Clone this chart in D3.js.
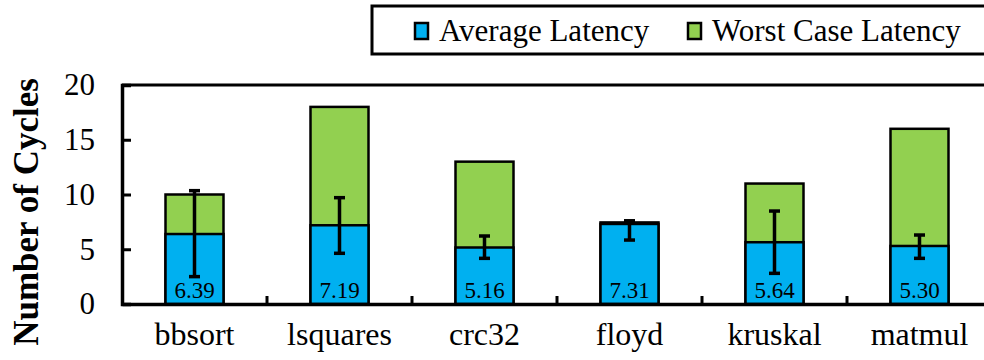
<!DOCTYPE html>
<html><head><meta charset="utf-8">
<script src="https://cdn.jsdelivr.net/npm/d3@7"></script>
<style>body{margin:0;background:#fff}svg{display:block}</style>
</head><body>
<svg id="c" width="984" height="360"></svg>
<script>
const categories = ["bbsort","lsquares","crc32","floyd","kruskal","matmul"];
const avgLatency = [6.39, 7.19, 5.16, 7.31, 5.64, 5.30];
const worstLatency = [10.0, 18.0, 13.0, 7.45, 11.0, 16.0];
const errLow = [2.5, 4.63, 4.17, 5.84, 2.8, 4.17];
const errHigh = [10.35, 9.71, 6.21, 7.6, 8.49, 6.3];
const yTicks = [0, 5, 10, 15, 20];
const seriesNames = ["Average Latency", "Worst Case Latency"];
const colors = ["#00B0F0", "#92D050"];

const svg = d3.select("#c");
const font = "'Liberation Serif','Times New Roman',serif";
const m = {left:122, top:85, bottom:304, right:992};
const x = d3.scaleBand().domain(categories).range([m.left, m.right]).padding(0);
const y = d3.scaleLinear().domain([0, 20]).range([m.bottom, m.top]);
const bw = x.bandwidth() * 0.4;

// top frame line
svg.append("line").attr("x1", m.left).attr("x2", m.right).attr("y1", m.top).attr("y2", m.top)
  .attr("stroke", "#000").attr("stroke-width", 3);

// worst bars
svg.selectAll(".w").data(categories).join("rect")
  .attr("x", d => x(d) + (x.bandwidth() - bw) / 2)
  .attr("y", (d, i) => y(worstLatency[i]))
  .attr("width", bw)
  .attr("height", (d, i) => y(0) - y(worstLatency[i]))
  .attr("fill", colors[1]).attr("stroke", "#000").attr("stroke-width", 2.5);
// avg bars
svg.selectAll(".a").data(categories).join("rect")
  .attr("x", d => x(d) + (x.bandwidth() - bw) / 2)
  .attr("y", (d, i) => y(avgLatency[i]))
  .attr("width", bw)
  .attr("height", (d, i) => y(0) - y(avgLatency[i]))
  .attr("fill", colors[0]).attr("stroke", "#000").attr("stroke-width", 2.5);

// error bars
const eb = svg.append("g");
categories.forEach((c, i) => {
  const cx = x(c) + x.bandwidth() / 2;
  eb.append("line").attr("x1", cx).attr("x2", cx).attr("y1", y(errLow[i])).attr("y2", y(errHigh[i]))
    .attr("stroke", "#000").attr("stroke-width", 3.5);
  [errLow[i], errHigh[i]].forEach(v => {
    eb.append("line").attr("x1", cx - 5.5).attr("x2", cx + 5.5).attr("y1", y(v)).attr("y2", y(v))
      .attr("stroke", "#000").attr("stroke-width", 3.5);
  });
});

// value labels
svg.selectAll(".v").data(categories).join("text")
  .attr("x", d => x(d) + x.bandwidth() / 2)
  .attr("y", 298)
  .attr("text-anchor", "middle")
  .attr("font-family", font).attr("font-size", 23)
  .text((d, i) => avgLatency[i].toFixed(2));

// y axis
const ya = svg.append("g").attr("transform", `translate(${m.left},0)`)
  .call(d3.axisLeft(y).tickValues(yTicks).tickSize(-9).tickPadding(27));
ya.select(".domain").attr("stroke-width", 3.5);
ya.selectAll(".tick line").attr("stroke-width", 3);
ya.selectAll("text").attr("font-family", font).attr("font-size", 31).attr("fill", "#000");

// x axis
const xa = svg.append("g").attr("transform", `translate(0,${m.bottom})`)
  .call(d3.axisBottom(x).tickSize(0).tickPadding(14));
xa.select(".domain").attr("stroke-width", 3.5);
xa.selectAll("text").attr("font-family", font).attr("font-size", 32).attr("fill", "#000").attr("dy", "0.85em");
// category separator ticks
const seps = categories.slice(1).map(c => x(c));
svg.selectAll(".sep").data(seps).join("line")
  .attr("x1", d => d).attr("x2", d => d).attr("y1", m.bottom).attr("y2", m.bottom - 8)
  .attr("stroke", "#000").attr("stroke-width", 3);

// y title
svg.append("text").attr("transform", "translate(38,212) rotate(-90)")
  .attr("text-anchor", "middle").attr("font-family", font).attr("font-weight", "bold")
  .attr("font-size", 35).text("Number of Cycles");

// legend
svg.append("rect").attr("x", 372).attr("y", 6).attr("width", 640).attr("height", 48)
  .attr("fill", "#fff").attr("stroke", "#000").attr("stroke-width", 3);
const lx = [415, 688];
seriesNames.forEach((n, i) => {
  svg.append("rect").attr("x", lx[i]).attr("y", 23).attr("width", 13).attr("height", 16)
    .attr("fill", colors[i]).attr("stroke", "#000").attr("stroke-width", 2.5);
  svg.append("text").attr("x", lx[i] + 24).attr("y", 41)
    .attr("font-family", font).attr("font-size", 31).text(n);
});
</script>
</body></html>
